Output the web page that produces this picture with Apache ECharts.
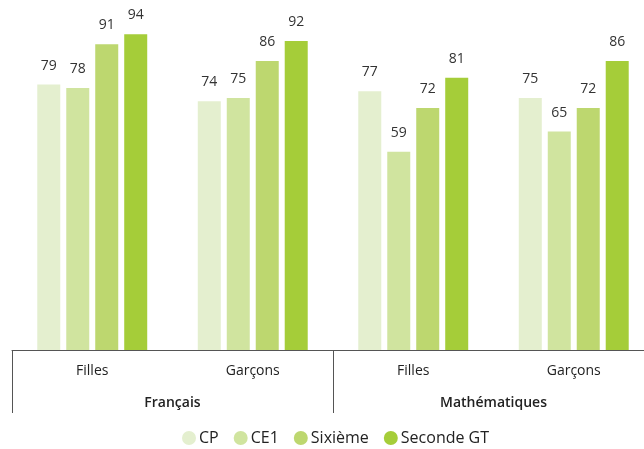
<!DOCTYPE html>
<html>
<head>
<meta charset="utf-8">
<script src="https://cdn.jsdelivr.net/npm/echarts@6/dist/echarts.min.js"></script>
<style>html,body{margin:0;padding:0;background:#fff;overflow:hidden}#c{width:655px;height:449px}</style>
</head>
<body>
<div id="c"></div>
<script>
var groups = ['Filles', 'Garçons', 'Filles', 'Garçons'];
var subjects = ['Français', 'Mathématiques'];
var seriesNames = ['CP', 'CE1', 'Sixième', 'Seconde GT'];
var cpValues = [79, 74, 77, 75];
var ce1Values = [78, 75, 59, 65];
var sixiemeValues = [91, 86, 72, 72];
var secondeValues = [94, 92, 81, 86];
var colors = ['#e4efcf', '#d0e49f', '#bdd76f', '#a5cd39'];

var allValues = [cpValues, ce1Values, sixiemeValues, secondeValues];
var font = '"Open Sans", sans-serif';
var chart = echarts.init(document.getElementById('c'));
chart.setOption({
  animation: false,
  textStyle: { fontFamily: font },
  grid: { left: 12, top: 14, right: 1, bottom: 99, containLabel: false },
  legend: {
    top: 430, left: 182, icon: 'circle', itemWidth: 14, itemHeight: 14, itemGap: 15,
    padding: [0, 0, 0, 0],
    textStyle: { fontSize: 16, color: '#222', fontFamily: font, padding: [0, 0, 0, -2] },
    data: seriesNames
  },
  xAxis: [
    {
      type: 'category', data: groups, position: 'bottom',
      axisLine: { show: true, lineStyle: { color: '#555', width: 1 } },
      axisTick: { show: false },
      axisLabel: { fontSize: 14, color: '#222', margin: 14, fontFamily: font }
    },
    {
      type: 'category', data: subjects, position: 'bottom',
      axisLine: { show: false },
      axisTick: { show: true, length: 63, lineStyle: { color: '#555', width: 1 } },
      axisLabel: { fontSize: 14, color: '#222', fontWeight: 600, margin: 46, fontFamily: font }
    }
  ],
  yAxis: { type: 'value', min: 0, max: 100, show: false, splitLine: { show: false } },
  series: seriesNames.map(function (n, i) {
    return {
      name: n, type: 'bar', xAxisIndex: 0, data: allValues[i],
      barWidth: 23, barGap: '26%',
      itemStyle: { color: colors[i] },
      label: { show: true, position: 'top', distance: 12, fontSize: 14, color: '#333', fontFamily: font }
    };
  })
});
</script>
</body>
</html>
